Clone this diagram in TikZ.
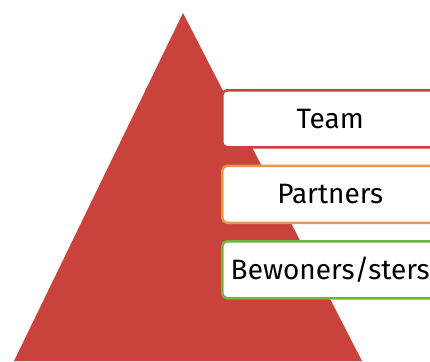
\documentclass[tikz,border=0pt]{standalone}
\usepackage{fontspec}
\setmainfont{Fira Sans}
\usetikzlibrary{positioning}
\definecolor{pyrred}{HTML}{C9423B}
\definecolor{pyrorange}{HTML}{E9964B}
\definecolor{pyrgreen}{HTML}{6DB83A}
\begin{document}
\begin{tikzpicture}[x=1pt,y=-1pt,
    level/.style={draw=#1,line width=2.5pt,fill=white,rounded corners=5pt,
      minimum width=216pt,minimum height=57pt,font=\fontsize{28}{30}\selectfont,inner sep=0pt},
    node distance=16pt]
        \clip (0,0) rectangle (430,361);
        \fill[pyrred] (183,13) -- (362,361) -- (14,361) -- cycle;

        \node[level=pyrred,anchor=north west] (team) at (221,89) {Team};
        \node[level=pyrorange,below=of team] (partners) {Partners};
        \node[level=pyrgreen,below=of partners] (bewoners) {Bewoners/sters};
      \end{tikzpicture}
\end{document}
